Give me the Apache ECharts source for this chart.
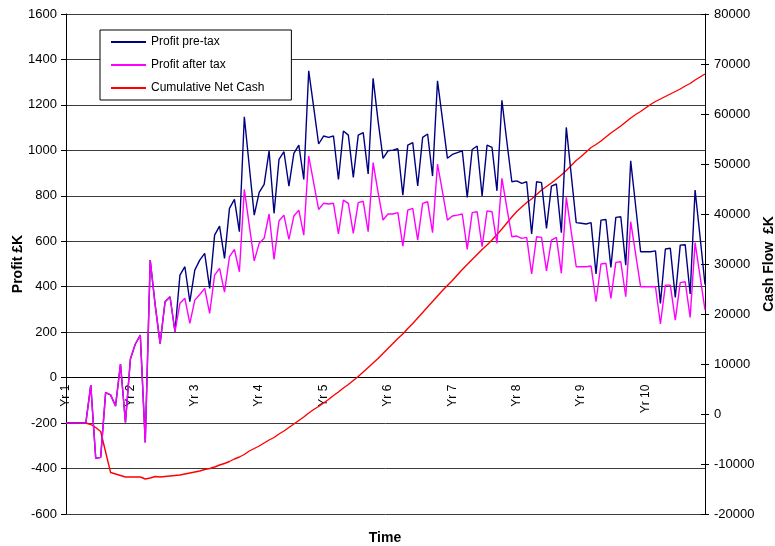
<!DOCTYPE html>
<html>
<head>
<meta charset="utf-8">
<title>Profit and Cash Flow</title>
<script src="https://cdn.jsdelivr.net/npm/echarts@6/dist/echarts.min.js"></script>
<style>
  html, body { margin: 0; padding: 0; background: #fff; }
  #chart { width: 775px; height: 546px; }
</style>
</head>
<body>
<div id="chart"></div>
<script>
// Ten trading years, each split into thirteen 4-weekly periods
const yearLabels = ['Yr 1', 'Yr 2', 'Yr 3', 'Yr 4', 'Yr 5', 'Yr 6', 'Yr 7', 'Yr 8', 'Yr 9', 'Yr 10'];
const periodsPerYear = 13;

// Profit before tax per period, £K
const profitPreTax = [
  -200, -200, -200, -200, -200, -33, -355, -351, -66, -76, -125, 60, -197,
  82, 148, 187, -285, 517, 320, 150, 334, 356, 202, 451, 488, 334,
  473, 517, 547, 393, 627, 667, 525, 745, 784, 642, 1148, 930, 715,
  815, 850, 998, 723, 960, 994, 843, 987, 1023, 872, 1350, 1190, 1028,
  1063, 1057, 1063, 872, 1085, 1067, 881, 1067, 1078, 896, 1317, 1130, 965,
  998, 1001, 1007, 803, 1023, 1034, 843, 1057, 1072, 887, 1306, 1136, 965,
  982, 990, 998, 793, 1004, 1019, 799, 1023, 1013, 822, 1220, 1038, 862,
  866, 855, 862, 632, 862, 858, 657, 843, 852, 638, 1101, 891, 682,
  679, 676, 682, 456, 693, 696, 485, 705, 708, 495, 954, 755, 554,
  554, 554, 558, 327, 566, 569, 353, 583, 585, 368, 825, 620, 410
];

// Profit after tax per period, £K
const profitAfterTax = [
  -200, -200, -200, -200, -200, -33, -355, -351, -66, -76, -125, 60, -197,
  82, 148, 187, -285, 517, 320, 150, 334, 356, 202, 327, 349, 239,
  341, 366, 393, 283, 451, 481, 376, 532, 564, 466, 828, 670, 514,
  591, 613, 720, 520, 690, 715, 608, 711, 737, 627, 975, 857, 740,
  767, 764, 767, 632, 781, 767, 635, 770, 776, 642, 946, 815, 693,
  720, 720, 726, 579, 737, 745, 605, 767, 774, 638, 940, 818, 693,
  711, 715, 720, 564, 726, 730, 576, 734, 730, 591, 877, 747, 620,
  623, 613, 617, 456, 620, 617, 470, 605, 617, 459, 793, 641, 488,
  488, 488, 491, 334, 500, 503, 349, 507, 510, 356, 686, 543, 400,
  400, 400, 400, 236, 407, 407, 253, 418, 422, 265, 594, 446, 298
];

// Cumulative net cash at the end of each period, £K
const cumulativeCash = [
  -1800, -1800, -1800, -1800, -1800, -2100, -2700, -3500, -7600, -11700, -12000, -12300, -12600,
  -12600, -12600, -12600, -13000, -12800, -12500, -12600, -12500, -12400, -12300, -12200, -12000, -11800,
  -11600, -11400, -11100, -10900, -10600, -10200, -9900, -9500, -9000, -8600, -8100, -7400, -6900,
  -6400, -5800, -5200, -4700, -4000, -3400, -2700, -2000, -1300, -600, 200, 900, 1500,
  2200, 2900, 3700, 4400, 5200, 5900, 6700, 7500, 8400, 9300, 10200, 11100, 12100,
  13100, 14100, 15100, 16000, 17100, 18100, 19200, 20300, 21400, 22500, 23600, 24700, 25700,
  26700, 27800, 28900, 29900, 30900, 31900, 32900, 33800, 34800, 35900, 37000, 38200, 39400,
  40500, 41400, 42300, 43000, 43900, 44800, 45500, 46200, 47000, 47800, 48700, 49700, 50700,
  51500, 52400, 53300, 53900, 54600, 55400, 56200, 56900, 57600, 58400, 59200, 59900, 60500,
  61200, 61900, 62500, 63000, 63500, 64000, 64500, 65000, 65600, 66100, 66800, 67400, 68000
];

// Axis ranges
const profitMin = -600, profitMax = 1600, profitStep = 200;
const cashMin = -20000, cashMax = 80000, cashStep = 10000;

// One category per period: "Yr 1 P1" ... "Yr 10 P13"
const periods = yearLabels.flatMap(yr =>
  Array.from({ length: periodsPerYear }, (_, k) => yr + ' P' + (k + 1)));

const FONT = '"Liberation Sans", Arial, Helvetica, sans-serif';
const GRID = { left: 66, right: 70, top: 14, bottom: 32 };
const plotHeight = 546 - GRID.top - GRID.bottom;
// the period axis runs along the zero line of the profit scale
const zeroLift = plotHeight * (0 - profitMin) / (profitMax - profitMin);

const plain = v => String(v);

const chart = echarts.init(document.getElementById('chart'), null, { renderer: 'canvas' });

chart.setOption({
  animation: false,
  backgroundColor: '#ffffff',
  textStyle: { fontFamily: FONT, color: '#000' },
  grid: Object.assign({ containLabel: false, outerBoundsMode: 'none' }, GRID),
  legend: {
    data: ['Profit pre-tax', 'Profit after tax', 'Cumulative Net Cash'],
    orient: 'vertical',
    left: 100,
    top: 30,
    itemWidth: 35,
    itemHeight: 12,
    itemGap: 11,
    padding: [6, 27, 6, 10],
    backgroundColor: '#fff',
    borderColor: '#000',
    borderWidth: 1,
    borderRadius: 0,
    itemStyle: { opacity: 0 },
    textStyle: { fontFamily: FONT, fontSize: 12, color: '#000' }
  },
  xAxis: {
    type: 'category',
    data: periods,
    boundaryGap: false,
    offset: -zeroLift,
    axisLine: { onZero: false, lineStyle: { color: '#000', width: 1 } },
    axisTick: { show: false },
    axisLabel: {
      rotate: 90,
      margin: 7,
      fontSize: 12,
      fontFamily: FONT,
      color: '#000',
      interval: (index) => index % periodsPerYear === 0,
      formatter: (value, index) => yearLabels[Math.floor(index / periodsPerYear)]
    },
    splitLine: { show: false }
  },
  yAxis: [
    {
      type: 'value',
      position: 'left',
      min: profitMin,
      max: profitMax,
      interval: profitStep,
      name: 'Profit £K',
      nameLocation: 'middle',
      nameGap: 41,
      nameRotate: 90,
      nameMoveOverlap: false,
      nameTextStyle: { fontFamily: FONT, fontSize: 14, fontWeight: 'bold', color: '#000' },
      axisLine: { show: true, lineStyle: { color: '#000', width: 1 } },
      axisTick: { show: true, inside: false, length: 5, lineStyle: { color: '#000' } },
      axisLabel: { fontSize: 13, fontFamily: FONT, color: '#000', margin: 9, formatter: plain },
      splitLine: { show: true, lineStyle: { color: '#3c3c3c', width: 1 } }
    },
    {
      type: 'value',
      position: 'right',
      min: cashMin,
      max: cashMax,
      interval: cashStep,
      name: 'Cash Flow  £K',
      nameLocation: 'middle',
      nameGap: 57,
      nameRotate: 90,
      nameMoveOverlap: false,
      nameTextStyle: { fontFamily: FONT, fontSize: 14, fontWeight: 'bold', color: '#000' },
      axisLine: { show: true, onZero: false, lineStyle: { color: '#000', width: 1 } },
      axisTick: { show: true, inside: false, length: 4, lineStyle: { color: '#000' } },
      axisLabel: { fontSize: 13, fontFamily: FONT, color: '#000', margin: 9, formatter: plain },
      splitLine: { show: false }
    },
    {
      // inner half of the cross ticks on the cash axis
      type: 'value',
      position: 'right',
      min: cashMin,
      max: cashMax,
      interval: cashStep,
      axisLine: { show: false, onZero: false },
      axisTick: { show: true, inside: true, length: 4, lineStyle: { color: '#000' } },
      axisLabel: { show: false },
      splitLine: { show: false }
    }
  ],
  graphic: [
    {
      type: 'text',
      x: 385,
      y: 538,
      style: {
        text: 'Time',
        font: 'bold 14px ' + FONT,
        fill: '#000',
        align: 'center',
        verticalAlign: 'middle'
      }
    }
  ],
  series: [
    {
      name: 'Cumulative Net Cash',
      type: 'line',
      yAxisIndex: 1,
      data: cumulativeCash,
      symbol: 'none',
      lineStyle: { color: '#ff0000', width: 1.4 },
      itemStyle: { color: '#ff0000' },
      z: 2
    },
    {
      name: 'Profit pre-tax',
      type: 'line',
      yAxisIndex: 0,
      data: profitPreTax,
      symbol: 'none',
      lineStyle: { color: '#000080', width: 1.4 },
      itemStyle: { color: '#000080' },
      z: 3
    },
    {
      name: 'Profit after tax',
      type: 'line',
      yAxisIndex: 0,
      data: profitAfterTax,
      symbol: 'none',
      lineStyle: { color: '#ff00ff', width: 1.4 },
      itemStyle: { color: '#ff00ff' },
      z: 4
    }
  ]
});
</script>
</body>
</html>
